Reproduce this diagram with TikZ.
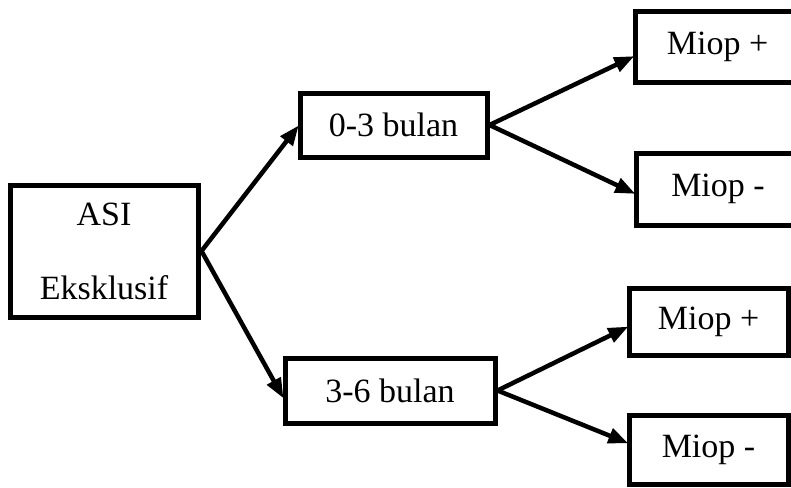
\documentclass[tikz,border=0pt]{standalone}
\usepackage{fontspec}
\setmainfont{Liberation Serif}
\usetikzlibrary{arrows.meta}
\tikzset{
  box/.style={draw=black, line width=5pt, fill=white, inner sep=0pt, font=\fontsize{34}{41}\selectfont, align=center},
  conn/.style={line width=4.5pt, -{Triangle[length=20pt,width=15pt]}, shorten >=-2pt}
}
\begin{document}
\begin{tikzpicture}[x=1pt,y=-1pt]
\useasboundingbox (0,0) rectangle (791,487);
\fill[white] (0,0) rectangle (791,487);
\clip (0,0) rectangle (791,487);
\node[box, minimum width=188pt, minimum height=132pt] (asi) at (104,251) {ASI\\[33pt]Eksklusif};
\node[box, minimum width=187pt, minimum height=64pt] (a03) at (393.5,125) {0-3 bulan};
\node[box, minimum width=210pt, minimum height=65pt] (a36) at (390,390.5) {3-6 bulan};
\node[box, minimum width=165pt, minimum height=70pt] (mp1) at (717.5,47) {Miop +};
\node[box, minimum width=164pt, minimum height=72pt] (mm1) at (718,189) {Miop -};
\node[box, minimum width=159pt, minimum height=67pt] (mp2) at (708.5,321.5) {Miop +};
\node[box, minimum width=159pt, minimum height=69pt] (mm2) at (708.5,449.5) {Miop -};
\coordinate (s0) at ([xshift=1pt]asi.east);
\draw[conn] (s0) -- ([yshift=-2pt]a03.west);
\draw[conn] (s0) -- ([yshift=-6pt]a36.west);
\draw[conn] (a03.east) -- ([yshift=-10pt]mp1.west);
\draw[conn] (a03.east) -- ([yshift=-4pt]mm1.west);
\draw[conn] (a36.east) -- ([yshift=-6pt]mp2.west);
\draw[conn] (a36.east) -- ([yshift=7pt]mm2.west);
\end{tikzpicture}
\end{document}
